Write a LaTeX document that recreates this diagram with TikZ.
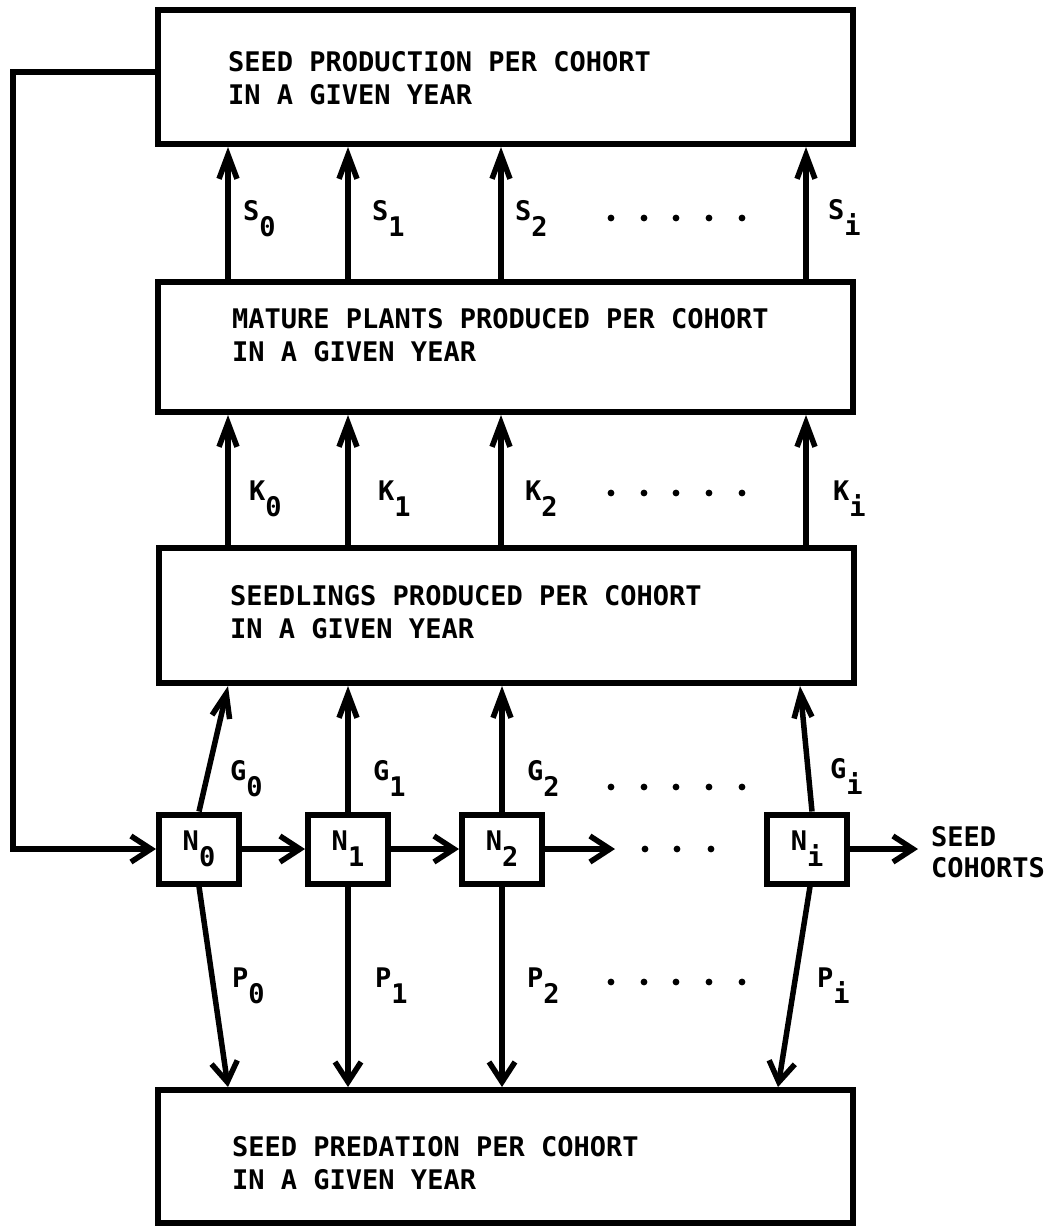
\documentclass[tikz,border=0pt]{standalone}
\usepackage{fontspec}
\newfontfamily\diagfont{DejaVu Sans Mono}[BoldFont={DejaVu Sans Mono Bold}]
\usetikzlibrary{arrows.meta}
\newcommand\mysub[2]{#1\raisebox{-16pt}{#2}}
\begin{document}
\begin{tikzpicture}[x=1pt,y=-1pt,
  box/.style={draw,line width=6pt,minimum width=695pt,inner sep=0pt},
  nbox/.style={draw,line width=6pt,minimum width=80pt,minimum height=69pt,inner sep=0pt,font=\diagfont\bfseries\fontsize{27}{30}\selectfont},
  boxtext/.style={anchor=west,align=left,inner sep=0pt,font=\diagfont\bfseries\fontsize{27}{33}\selectfont},
  lab/.style={anchor=base west,inner sep=0pt,font=\diagfont\bfseries\fontsize{27}{30}\selectfont},
  uparrow/.style={line width=5.5pt,-{Straight Barb[length=24pt,width=18pt]}},
  flow/.style={line width=5.5pt,-{Straight Barb[length=20pt,width=26pt]}}
]
\path[use as bounding box, fill=white] (0,0) rectangle (1057,1230);

% main boxes
\node[box,minimum height=134pt] (top) at (505.5,77) {};
\node[box,minimum height=130pt] (mature) at (505.5,347) {};
\node[box,minimum height=135pt] (seed) at (506.5,615.5) {};
\node[box,minimum height=133pt] (pred) at (505.5,1156.5) {};

\node[boxtext] (toptext) at (228,78.5) {SEED PRODUCTION PER COHORT\\IN A GIVEN YEAR};
\node[boxtext] (maturetext) at (232,335.5) {MATURE PLANTS PRODUCED PER COHORT\\IN A GIVEN YEAR};
\node[boxtext] (seedtext) at (230,612.5) {SEEDLINGS PRODUCED PER COHORT\\IN A GIVEN YEAR};
\node[boxtext] (predtext) at (232,1163.5) {SEED PREDATION PER COHORT\\IN A GIVEN YEAR};

% columns
\coordinate (c0) at (228,0);
\coordinate (c1) at (348,0);
\coordinate (c2) at (501,0);
\coordinate (ci) at (806,0);
\coordinate (gi) at (800,0);
\coordinate (pi) at (778,0);

% S and K arrows
\foreach \c in {c0,c1,c2,ci}{
  \draw[uparrow] (mature.north -| \c) -- (top.south -| \c);
  \draw[uparrow] (seed.north -| \c) -- (mature.south -| \c);
}

% N boxes
\node[nbox] (N0) at (199,849) {\mysub{N}{0}};
\node[nbox] (N1) at (348,849) {\mysub{N}{1}};
\node[nbox] (N2) at (502,849) {\mysub{N}{2}};
\node[nbox] (Ni) at (807,849) {\mysub{N}{i}};

% G arrows
\draw[uparrow] (N0.north) -- (seed.south -| c0);
\draw[uparrow] (N1.north) -- (seed.south -| N1);
\draw[uparrow] (N2.north) -- (seed.south -| N2);
\draw[uparrow] ([xshift=5pt]Ni.north) -- (seed.south -| gi);

% P arrows
\draw[flow] (N0.south) -- (pred.north -| c0);
\draw[flow] (N1.south) -- (pred.north -| N1);
\draw[flow] (N2.south) -- (pred.north -| N2);
\draw[flow] ([xshift=3pt]Ni.south) -- (pred.north -| pi);

% horizontal chain
\coordinate (n2end) at (615,849);
\coordinate (niend) at (918,849);
\draw[flow] (N0) -- (N1);
\draw[flow] (N1) -- (N2);
\draw[flow] (N2) -- (n2end);
\draw[flow] (Ni) -- (niend);
\node[boxtext,font=\diagfont\bfseries\fontsize{27}{31}\selectfont] (cohorts) at (931,852.5) {SEED\\COHORTS};

% feedback loop
\coordinate (fb) at (13,500);
\draw[flow] ([yshift=5pt]top.west) -| (fb) |- (N0);

% dots
\foreach \y in {218,493,787,982}{
  \foreach \x in {611,644,676,709,742}{
    \fill (\x,\y) circle (3.4pt);
  }
}
\foreach \x in {645,677,711}{\fill (\x,849) circle (3.4pt);}

% labels
\node[lab] (lS0) at (243,221) {\mysub{S}{0}};
\node[lab] (lS1) at (372,221) {\mysub{S}{1}};
\node[lab] (lS2) at (515,221) {\mysub{S}{2}};
\node[lab] (lSi) at (828,220) {\mysub{S}{i}};
\node[lab] (lK0) at (249,500) {\mysub{K}{0}};
\node[lab] (lK1) at (378,500) {\mysub{K}{1}};
\node[lab] (lK2) at (525,500) {\mysub{K}{2}};
\node[lab] (lKi) at (833,500) {\mysub{K}{i}};
\node[lab] (lG0) at (230,780) {\mysub{G}{0}};
\node[lab] (lG1) at (373,780) {\mysub{G}{1}};
\node[lab] (lG2) at (527,780) {\mysub{G}{2}};
\node[lab] (lGi) at (830,778) {\mysub{G}{i}};
\node[lab] (lP0) at (232,987) {\mysub{P}{0}};
\node[lab] (lP1) at (375,987) {\mysub{P}{1}};
\node[lab] (lP2) at (527,987) {\mysub{P}{2}};
\node[lab] (lPi) at (817,987) {\mysub{P}{i}};
\end{tikzpicture}
\end{document}
